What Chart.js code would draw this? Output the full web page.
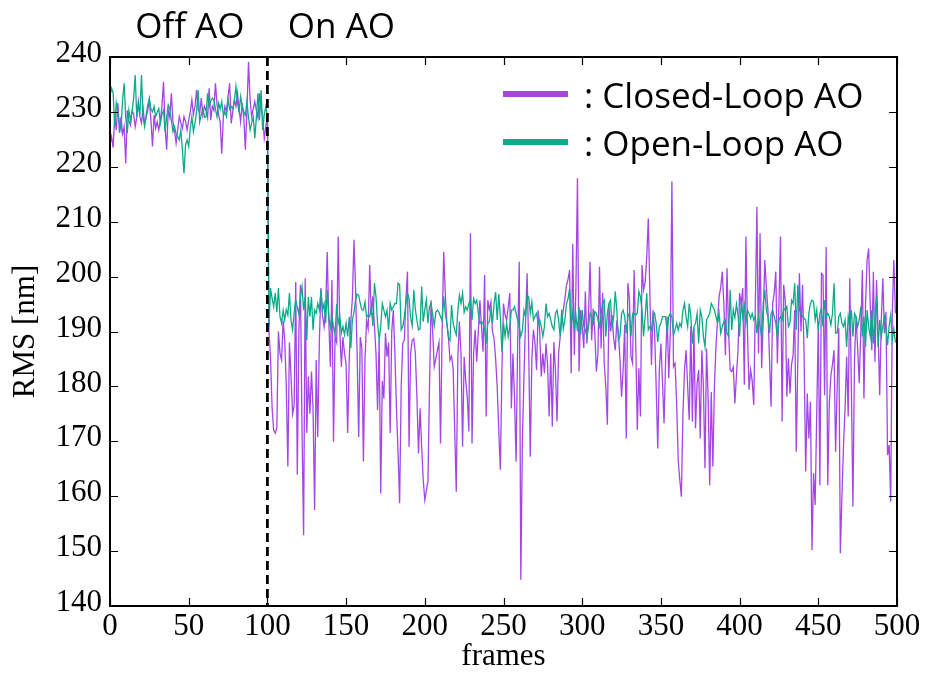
<!DOCTYPE html>
<html>
<head>
<meta charset="utf-8">
<title>RMS wavefront error</title>
<script src="https://cdn.jsdelivr.net/npm/chart.js@4.4.0/dist/chart.umd.min.js"></script>
<style>
  html, body { margin: 0; padding: 0; background: #fff; }
  #wrap { width: 926px; height: 675px; }
</style>
</head>
<body>
<div id="wrap"><canvas id="rms-chart" width="926" height="675"></canvas></div>
<script>
// RMS per frame [nm], one value per frame starting at frame 0
const closedLoop = [
  224.0, 225.5, 223.5, 229.1, 226.7, 231.6, 226.2, 229.1, 226.0, 227.3,
  220.6, 230.3, 228.4, 227.6, 230.1, 229.7, 227.3, 229.0, 231.9, 229.1,
  228.0, 230.6, 227.9, 229.0, 230.3, 232.2, 228.5, 223.7, 229.4, 227.0,
  228.2, 226.7, 228.5, 231.0, 235.5, 227.3, 223.1, 230.3, 229.0, 233.4,
  228.2, 226.5, 224.3, 226.7, 229.1, 228.0, 227.0, 229.1, 228.3, 226.7,
  228.5, 230.0, 232.2, 229.5, 231.0, 234.0, 230.6, 229.8, 232.5, 229.4,
  231.0, 230.3, 229.0, 234.3, 228.5, 231.0, 230.3, 235.2, 231.3, 229.5,
  228.2, 222.4, 229.0, 231.0, 230.0, 232.8, 235.2, 227.9, 230.0, 232.2,
  231.0, 233.4, 230.6, 228.2, 231.6, 229.0, 223.1, 230.3, 239.1, 232.2,
  229.1, 230.5, 231.9, 230.3, 228.9, 233.4, 231.0, 229.1, 225.2, 227.3,
  // 100
  229.5, 190.0, 185.0, 176.0, 172.0, 171.5, 172.5, 190.0, 186.0, 184.8,
  192.0, 188.5, 180.0, 165.4, 188.0, 182.0, 175.0, 176.5, 199.0, 163.9,
  190.0, 198.5, 172.0, 152.9, 199.7, 171.5, 181.8, 175.0, 182.7, 176.0,
  157.5, 184.8, 170.8, 188.0, 197.9, 193.0, 190.9, 194.0, 204.5, 192.0,
  183.6, 199.4, 169.9, 189.0, 188.0, 207.3, 190.0, 183.6, 189.0, 186.0,
  184.0, 171.5, 185.0, 192.0, 196.0, 206.7, 198.0, 186.0, 170.8, 189.0,
  187.0, 166.3, 185.0, 192.0, 190.5, 202.1, 193.0, 196.4, 191.0, 186.0,
  175.7, 188.4, 160.5, 181.0, 177.8, 189.7, 185.4, 188.0, 171.5, 190.0,
  193.9, 186.0, 176.0, 168.0, 158.7, 180.0, 187.8, 188.5, 196.0, 200.9,
  169.0, 186.0, 188.4, 188.7, 186.0, 178.0, 167.8, 176.0, 169.0, 163.0,
  // 200
  159.3, 161.0, 162.7, 180.0, 195.7, 190.0, 183.6, 185.0, 186.6, 188.0,
  169.6, 190.0, 204.5, 197.0, 191.5, 189.0, 184.8, 185.5, 183.3, 172.0,
  160.8, 185.4, 191.8, 186.0, 169.0, 185.4, 181.0, 178.1, 171.8, 207.9,
  169.6, 186.0, 190.3, 184.5, 190.0, 195.7, 191.0, 186.3, 200.3, 174.5,
  195.7, 194.0, 195.4, 190.0, 188.7, 185.0, 179.9, 172.0, 164.8, 183.0,
  195.1, 193.0, 192.1, 194.5, 197.0, 176.0, 186.0, 178.0, 166.3, 188.0,
  202.7, 144.8, 170.0, 181.8, 192.0, 200.6, 187.0, 167.2, 185.0, 190.3,
  188.0, 183.0, 193.9, 190.0, 181.8, 186.0, 182.4, 187.8, 184.0, 174.5,
  186.0, 172.7, 188.1, 183.0, 173.6, 186.0, 189.0, 192.0, 193.9, 196.0,
  198.4, 199.5, 201.2, 182.4, 206.0, 185.7, 198.0, 217.9, 182.7, 193.9,
  // 300
  190.9, 187.0, 197.3, 187.8, 193.0, 202.7, 188.4, 194.2, 190.0, 182.7,
  186.0, 201.8, 186.9, 197.0, 184.2, 180.0, 173.0, 195.1, 190.0, 193.0,
  188.7, 186.6, 192.0, 189.7, 185.0, 178.1, 183.0, 191.2, 170.5, 198.8,
  196.0, 185.4, 184.2, 201.2, 188.0, 172.1, 183.3, 174.5, 202.1, 197.6,
  199.0, 203.6, 210.6, 197.0, 183.9, 193.9, 190.0, 180.0, 168.7, 183.0,
  187.8, 181.0, 173.3, 185.0, 192.7, 181.5, 190.0, 217.3, 183.6, 184.2,
  177.0, 166.6, 163.0, 159.9, 175.0, 183.0, 186.6, 180.0, 173.9, 190.9,
  173.6, 190.6, 172.4, 180.6, 183.0, 170.5, 186.6, 180.0, 165.1, 186.9,
  178.0, 162.0, 179.0, 165.4, 180.0, 187.5, 192.0, 196.4, 198.0, 200.9,
  195.0, 185.7, 201.5, 190.0, 183.0, 182.7, 183.5, 176.9, 182.0, 186.6,
  // 400
  197.0, 195.0, 197.9, 180.3, 207.3, 190.0, 179.4, 183.0, 181.0, 176.6,
  195.0, 212.7, 186.0, 207.9, 183.3, 192.0, 203.0, 198.0, 193.9, 185.0,
  176.3, 195.1, 197.0, 200.9, 184.2, 195.0, 207.3, 173.6, 198.5, 195.7,
  178.1, 185.1, 178.7, 184.0, 185.7, 193.9, 168.1, 185.0, 200.6, 190.0,
  198.5, 185.0, 164.5, 178.7, 170.5, 177.2, 150.2, 164.2, 158.4, 175.0,
  191.5, 162.0, 200.6, 200.3, 178.4, 205.4, 162.0, 176.9, 182.0, 184.0,
  186.6, 168.1, 180.0, 190.6, 149.6, 160.0, 169.0, 176.0, 185.4, 174.5,
  199.7, 180.0, 158.1, 185.0, 192.7, 187.0, 180.6, 190.0, 201.2, 177.8,
  195.0, 203.0, 205.1, 195.0, 186.6, 200.9, 184.5, 199.4, 190.0, 178.4,
  192.0, 199.7, 189.7, 193.6, 167.5, 169.3, 159.0, 193.3, 203.0, 193.3
];

const openLoop = [
  233.0, 234.3, 233.4, 227.3, 231.6, 229.7, 228.0, 226.7, 232.2, 235.2,
  229.0, 226.1, 230.3, 228.5, 230.0, 232.5, 236.7, 229.1, 231.3, 229.5,
  236.7, 229.1, 227.3, 229.5, 231.3, 232.5, 230.5, 230.0, 231.0, 229.1,
  230.0, 230.6, 227.9, 229.5, 230.3, 226.4, 229.0, 231.3, 230.6, 228.5,
  226.4, 227.3, 226.0, 225.5, 224.9, 226.7, 223.0, 218.8, 224.0, 224.9,
  223.7, 227.0, 229.1, 226.4, 228.0, 230.0, 234.0, 228.2, 229.5, 230.6,
  229.0, 229.1, 233.4, 231.0, 232.0, 232.5, 232.2, 230.5, 229.1, 231.6,
  230.5, 231.9, 229.4, 230.0, 229.1, 232.2, 230.5, 231.0, 230.6, 232.0,
  234.6, 231.6, 230.0, 232.8, 231.0, 230.0, 229.4, 231.9, 229.0, 226.7,
  228.0, 229.1, 225.2, 229.0, 233.4, 228.5, 234.0, 226.7, 229.5, 231.0,
  // 100
  229.1, 190.9, 197.9, 196.0, 194.5, 197.0, 193.5, 197.9, 192.7, 191.5,
  193.9, 192.1, 194.0, 193.0, 197.0, 192.0, 190.3, 193.5, 195.7, 194.5,
  193.2, 196.4, 198.2, 193.9, 196.3, 188.4, 196.3, 192.7, 196.3, 190.3,
  193.9, 193.3, 195.1, 194.0, 197.6, 193.9, 195.1, 191.5, 197.6, 192.7,
  190.9, 192.7, 190.9, 189.4, 195.0, 191.5, 192.7, 189.7, 190.9, 189.4,
  191.5, 189.1, 192.7, 187.0, 192.1, 193.5, 195.7, 196.8, 196.6, 195.1,
  194.0, 193.9, 195.4, 192.7, 193.0, 192.7, 194.5, 191.0, 198.8, 196.3,
  191.5, 188.4, 190.9, 195.1, 193.9, 192.7, 193.9, 190.3, 195.1, 193.9,
  194.5, 195.1, 195.1, 198.8, 198.5, 190.3, 190.9, 192.7, 195.1, 197.0,
  196.0, 192.5, 191.0, 197.6, 194.0, 192.0, 190.3, 190.5, 198.2, 191.8,
  // 200
  194.0, 195.8, 191.5, 194.5, 195.1, 193.0, 191.0, 193.5, 193.9, 193.5,
  192.7, 192.0, 196.4, 193.3, 191.5, 189.0, 188.4, 194.8, 191.5, 190.3,
  189.4, 193.9, 196.6, 195.1, 197.0, 193.5, 194.5, 193.9, 195.1, 195.7,
  192.1, 196.0, 195.1, 195.7, 193.3, 191.5, 191.8, 191.5, 190.3, 187.8,
  191.5, 191.8, 193.9, 191.5, 195.1, 197.2, 192.1, 196.8, 192.7, 186.3,
  191.5, 189.1, 191.5, 189.1, 190.9, 193.9, 193.9, 194.5, 193.3, 192.1,
  190.9, 189.1, 190.3, 193.9, 192.7, 196.6, 196.3, 193.3, 195.4, 192.1,
  192.7, 193.3, 191.5, 192.1, 190.9, 189.1, 190.9, 195.1, 192.7, 193.3,
  192.1, 190.9, 190.3, 193.3, 193.9, 192.1, 189.1, 194.0, 190.5, 192.1,
  195.0, 196.0, 197.8, 191.0, 193.5, 190.3, 193.0, 190.0, 194.5, 189.5,
  // 300
  193.9, 191.0, 190.3, 189.0, 190.9, 193.3, 192.7, 191.5, 193.6, 193.3,
  192.1, 190.9, 193.3, 195.1, 195.7, 189.1, 193.3, 195.1, 195.7, 190.9,
  192.7, 197.3, 193.9, 188.4, 189.1, 193.3, 193.9, 192.7, 189.7, 192.7,
  193.3, 189.1, 193.3, 193.3, 193.0, 193.3, 197.3, 196.3, 193.9, 189.1,
  192.7, 197.0, 190.3, 190.9, 190.3, 192.7, 193.3, 191.5, 188.1, 190.9,
  191.5, 192.7, 192.7, 192.7, 189.7, 192.7, 193.3, 192.7, 189.4, 190.3,
  191.5, 190.3, 191.5, 190.9, 193.9, 195.1, 192.7, 190.9, 195.1, 192.7,
  187.8, 190.9, 191.5, 193.3, 187.8, 193.9, 192.7, 189.1, 187.2, 192.1,
  192.7, 193.3, 195.1, 194.5, 193.9, 192.7, 191.5, 193.3, 189.7, 190.9,
  191.8, 192.1, 189.7, 189.1, 197.6, 190.3, 194.0, 192.5, 195.0, 193.0,
  // 400
  189.1, 195.4, 192.7, 194.8, 191.5, 193.9, 193.3, 192.4, 193.3, 192.1,
  192.7, 189.7, 192.7, 190.9, 189.1, 195.1, 197.6, 193.9, 192.7, 189.7,
  193.3, 193.9, 192.7, 191.5, 188.8, 192.1, 192.7, 192.1, 194.2, 193.9,
  194.5, 190.9, 191.5, 195.7, 195.1, 198.8, 190.3, 198.5, 193.9, 193.3,
  192.7, 192.4, 192.1, 188.8, 193.3, 195.1, 195.7, 195.4, 192.1, 193.9,
  190.3, 193.3, 194.2, 190.9, 195.7, 192.7, 193.3, 192.7, 191.2, 193.3,
  198.8, 189.7, 189.7, 192.7, 193.3, 191.5, 190.9, 192.1, 187.2, 192.7,
  190.9, 193.9, 189.1, 193.3, 192.7, 190.9, 192.1, 194.5, 189.1, 192.7,
  187.2, 193.9, 190.9, 189.1, 193.9, 187.8, 192.7, 196.3, 187.2, 192.1,
  189.1, 190.9, 192.7, 190.9, 187.5, 191.0, 193.0, 188.5, 190.5, 188.0
];

const xTicks = [0, 50, 100, 150, 200, 250, 300, 350, 400, 450, 500];
const yTicks = [140, 150, 160, 170, 180, 190, 200, 210, 220, 230, 240];
const seriesNames = [': Closed-Loop AO', ': Open-Loop AO'];
const seriesColors = ['#a445e6', '#0caa88'];
const phaseLabels = ['Off AO', 'On AO'];
const phaseLabelAt = [16, 113];   // frame where each phase label starts
const aoOnFrame = 100;

const serif = '"Liberation Serif", "Times New Roman", serif';
const sans = '"Open Sans", "Noto Sans", sans-serif';

const toPoints = (values) => values.map((v, i) => ({ x: i, y: v }));

// inward ticks on all four sides, plot frame, AO switch marker
const frameTicks = {
  id: 'frameTicks',
  afterDatasetsDraw(chart) {
    const { ctx, chartArea: a, scales: { x, y } } = chart;
    ctx.save();
    ctx.strokeStyle = '#000';
    ctx.lineWidth = 1.2;
    ctx.beginPath();
    xTicks.forEach(v => {
      const px = Math.round(x.getPixelForValue(v)) + 0.5;
      ctx.moveTo(px, a.bottom); ctx.lineTo(px, a.bottom - 8);
      ctx.moveTo(px, a.top); ctx.lineTo(px, a.top + 8);
    });
    yTicks.forEach(v => {
      const py = Math.round(y.getPixelForValue(v)) + 0.5;
      ctx.moveTo(a.left, py); ctx.lineTo(a.left + 8, py);
      ctx.moveTo(a.right, py); ctx.lineTo(a.right - 8, py);
    });
    ctx.stroke();

    const sx = x.getPixelForValue(aoOnFrame);
    ctx.lineWidth = 2.8;
    ctx.setLineDash([9, 5]);
    ctx.beginPath();
    ctx.moveTo(sx, a.top);
    ctx.lineTo(sx, a.bottom);
    ctx.stroke();

    ctx.setLineDash([]);
    ctx.lineWidth = 2;
    ctx.strokeRect(a.left, a.top, a.right - a.left, a.bottom - a.top);
    ctx.restore();
  }
};

// phase captions above the plot and the in-plot legend
const captions = {
  id: 'captions',
  afterDraw(chart) {
    const { ctx, scales: { x } } = chart;
    ctx.save();
    ctx.fillStyle = '#000';
    ctx.font = '35px ' + sans;
    ctx.textBaseline = 'alphabetic';
    ctx.textAlign = 'left';
    phaseLabels.forEach((t, i) => {
      ctx.fillText(t, x.getPixelForValue(phaseLabelAt[i]), 38);
    });

    const rows = [94, 142];
    chart.data.datasets.forEach((ds, i) => {
      ctx.strokeStyle = ds.borderColor;
      ctx.lineWidth = 6;
      ctx.beginPath();
      ctx.moveTo(503, rows[i]);
      ctx.lineTo(568, rows[i]);
      ctx.stroke();
      ctx.fillText(ds.label, 584, rows[i] + 14);
    });
    ctx.restore();
  }
};

const tickFont = { family: serif, size: 31 };

new Chart(document.getElementById('rms-chart'), {
  type: 'line',
  data: {
    datasets: [
      {
        label: seriesNames[0],
        data: toPoints(closedLoop),
        borderColor: seriesColors[0],
        borderWidth: 1.3,
        pointRadius: 0,
        tension: 0,
        order: 1
      },
      {
        label: seriesNames[1],
        data: toPoints(openLoop),
        borderColor: seriesColors[1],
        borderWidth: 1.3,
        pointRadius: 0,
        tension: 0,
        order: 0
      }
    ]
  },
  options: {
    responsive: false,
    animation: false,
    devicePixelRatio: 1,
    layout: { padding: { left: 0, right: 29, top: 57, bottom: 0 } },
    plugins: {
      legend: { display: false },
      tooltip: { enabled: false }
    },
    scales: {
      x: {
        type: 'linear',
        min: 0,
        max: 500,
        afterBuildTicks: s => { s.ticks = xTicks.map(v => ({ value: v })); },
        afterFit: s => { s.height = 69; },
        grid: { display: false, drawTicks: false },
        border: { display: false },
        ticks: { font: tickFont, color: '#000', padding: 2, maxRotation: 0, autoSkip: false },
        title: { display: true, text: 'frames', font: tickFont, color: '#000', padding: { top: 0, bottom: 0 } }
      },
      y: {
        type: 'linear',
        min: 140,
        max: 240,
        afterBuildTicks: s => { s.ticks = yTicks.map(v => ({ value: v })); },
        afterFit: s => { s.width = 110; },
        grid: { display: false, drawTicks: false },
        border: { display: false },
        ticks: { font: tickFont, color: '#000', padding: 8, labelOffset: -3, autoSkip: false },
        title: { display: true, text: 'RMS [nm]', font: tickFont, color: '#000', padding: { top: 7, bottom: 0 } }
      }
    }
  },
  plugins: [frameTicks, captions]
});
</script>
</body>
</html>
